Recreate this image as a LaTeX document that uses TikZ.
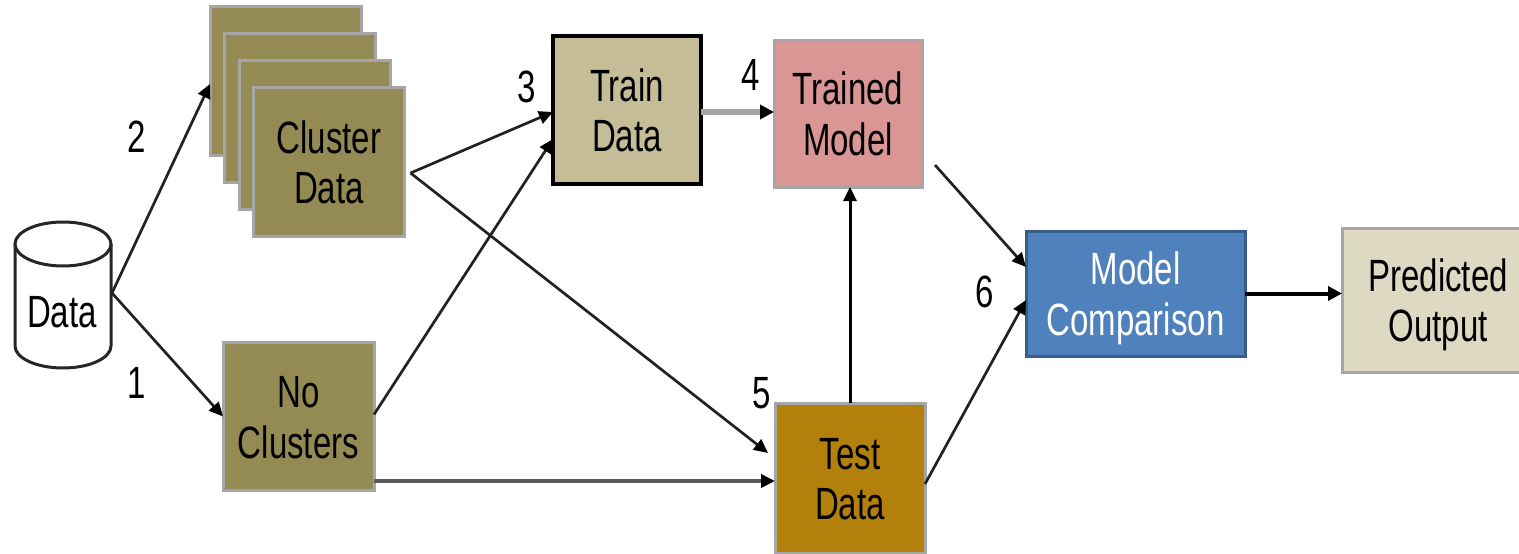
\documentclass[tikz,border=0pt]{standalone}
\usepackage{fontspec}
\setmainfont{Liberation Sans}
\usepackage{graphicx}
\usetikzlibrary{arrows.meta}
\definecolor{cOlive}{HTML}{948A54}
\definecolor{cTan}{HTML}{C4BD97}
\definecolor{cPink}{HTML}{D99694}
\definecolor{cGold}{HTML}{B3800B}
\definecolor{cBlue}{HTML}{4F81BD}
\definecolor{cBlueDark}{HTML}{385D8A}
\definecolor{cBeige}{HTML}{DDD9C3}
\definecolor{cGray}{HTML}{A6A6A6}
\definecolor{cLine}{HTML}{222222}
\newcommand\mytxt[1]{\raisebox{0pt}[\dimexpr\height+13pt\relax][\depth]{\scalebox{1}[1.37]{\begin{tabular}{@{}c@{}}#1\end{tabular}}}}
\begin{document}
\begin{tikzpicture}[x=1pt,y=-1pt,
  every node/.style={font=\fontsize{33}{37}\selectfont, inner sep=0pt, outer sep=0pt},
  graybox/.style={draw=cGray, line width=3pt, rectangle},
  clusterbox/.style={graybox, fill=cOlive, minimum width=151pt, minimum height=149pt},
  conn/.style={draw=cLine, line width=2.7pt, -{Triangle[length=14pt,width=13pt,color=black]}},
  numlbl/.style={font=\fontsize{33}{37}\selectfont}
]
\fill[white] (0,0) rectangle (1519,554);
\useasboundingbox (0,0) rectangle (1519,554);

% cylinder "Data"
\draw[line width=3pt, draw=black!85, fill=white] (15,244) -- (15,346) arc[start angle=180, end angle=360, x radius=48pt, y radius=22pt] -- (111,244);
\draw[line width=3pt, draw=black!85, fill=white] (63,244) ellipse [x radius=48pt, y radius=22pt];
\node (data) at (62,311) {\mytxt{Data}};
\coordinate (dataR) at (112,293);

% cluster stack
\node[clusterbox] (clusA) at (285.5,81) {};
\node[clusterbox] (clusB) at (300,108) {};
\node[clusterbox] (clusC) at (314.5,135) {};
\node[clusterbox] (clusD) at (329,162) {\mytxt{Cluster\\Data}};

% other boxes
\node[clusterbox, minimum width=151pt, minimum height=148pt] (nocl) at (298.5,416.5) {\mytxt{No\\Clusters}};
\node[draw=black, line width=4pt, fill=cTan, minimum width=148pt, minimum height=148pt] (train) at (627,110) {\mytxt{Train\\Data}};
\node[graybox, fill=cPink, minimum width=148pt, minimum height=147pt] (trained) at (848,113.5) {\mytxt{Trained\\Model}};
\node[graybox, fill=cGold, minimum width=150pt, minimum height=150pt] (test) at (850,478) {\mytxt{Test\\Data}};
\node[draw=cBlueDark, line width=3pt, fill=cBlue, text=white, minimum width=219pt, minimum height=125pt] (comp) at (1135.5,293.5) {\mytxt{Model\\Comparison}};
\node[graybox, fill=cBeige, minimum width=192pt, minimum height=144pt] (pred) at (1438,300) {\mytxt{Predicted\\Output}};

% number labels
\node[numlbl] (n1) at (137,383) {\scalebox{1}[1.37]{1}};
\node[numlbl] (n2) at (137,137) {\scalebox{1}[1.37]{2}};
\node[numlbl] (n3) at (527,87) {\scalebox{1}[1.37]{3}};
\node[numlbl] (n4) at (751,75) {\scalebox{1}[1.37]{4}};
\node[numlbl] (n5) at (762,393) {\scalebox{1}[1.37]{5}};
\node[numlbl] (n6) at (985,292) {\scalebox{1}[1.37]{6}};

% connectors
\draw[conn] (dataR) -- ([yshift=-3pt]clusA.west);
\draw[conn] (dataR) -- (nocl.west);
\coordinate (cv) at ([xshift=6pt,yshift=-11pt]clusD.east);
\draw[conn] (cv) -- ([yshift=-2pt]train.west);
\draw[conn] (cv) -- ([xshift=-7pt,yshift=25pt]test.west);
\draw[conn] ([yshift=2pt]nocl.east) -- ([yshift=-29pt]train.west);
\draw[draw=black!65, line width=4.5pt, -{Triangle[length=14pt,width=13pt,color=black]}]
  ([yshift=-64.5pt]nocl.east) -- ([yshift=-64.5pt]nocl.east -| test.west);
\draw[draw=cGray, line width=6pt, -{Triangle[length=14pt,width=14pt,color=black]}]
  ([yshift=-2pt]train.east) -- ([yshift=-2pt]train.east -| trained.west);
\draw[draw=black, line width=3pt, -{Triangle[length=14pt,width=13pt,color=black]}]
  (test.north) -- (test.north |- trained.south);
\draw[conn] ([xshift=13pt,yshift=-51.5pt]trained.east) -- ([yshift=26.5pt]comp.west);
\draw[conn] ([yshift=-6pt]test.east) -- ([yshift=-6.5pt]comp.west);
\draw[draw=black, line width=4pt, -{Triangle[length=14pt,width=14pt,color=black]}]
  (comp.east) -- (comp.east -| pred.west);
\end{tikzpicture}
\end{document}
